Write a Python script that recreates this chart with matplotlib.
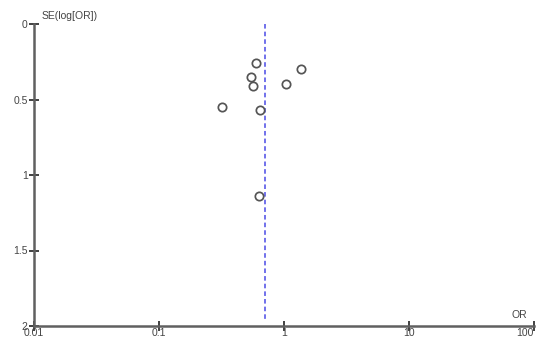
import matplotlib
matplotlib.use("Agg")
import matplotlib.pyplot as plt

plt.rcParams['font.family'] = ['Liberation Sans', 'DejaVu Sans']

# study estimates
odds_ratio = [0.60, 1.36, 0.54, 0.57, 1.03, 0.32, 0.64, 0.63]
se_log_or = [0.26, 0.30, 0.35, 0.41, 0.40, 0.55, 0.57, 1.14]
pooled_or = 0.71

x_ticks = [0.01, 0.1, 1, 10, 100]
x_labels = ['0.01', '0.1', '1', '10', '100']
y_ticks = [0, 0.5, 1, 1.5, 2]
y_labels = ['0', '0.5', '1', '1.5', '2']

axis_col = '#606060'

fig = plt.figure(figsize=(5.38, 3.38), dpi=100)
ax = fig.add_axes([34 / 538, 12 / 338, 500 / 538, 302 / 338])

ax.scatter(odds_ratio, se_log_or, s=36, facecolors='white',
           edgecolors='#555555', linewidths=1.25, zorder=3)
ax.plot([pooled_or, pooled_or], [0, 1.97], color='#4a4ae6',
        linestyle=(0, (3, 2)), linewidth=1.1, zorder=2)

ax.set_xscale('log')
ax.set_xlim(0.01, 100)
ax.set_ylim(2, 0)
ax.set_xticks(x_ticks)
ax.set_xticklabels(x_labels)
ax.set_yticks(y_ticks)
ax.set_yticklabels(y_labels)
ax.minorticks_off()

for side in ['top', 'right']:
    ax.spines[side].set_visible(False)
for side in ['left', 'bottom']:
    ax.spines[side].set_color(axis_col)
    ax.spines[side].set_linewidth(1.8)

ax.tick_params(axis='both', direction='inout', length=7, width=1.3,
               color='#333333', labelsize=7.5, labelcolor='#444444')
ax.tick_params(axis='x', pad=-2)
ax.tick_params(axis='y', pad=1)
ax.get_xticklabels()[-1].set_horizontalalignment('right')

ax.text(0.0115, -0.02, 'SE(log[OR])', fontsize=7.5, color='#444444',
        ha='left', va='bottom')
ax.text(88, 1.96, 'OR', fontsize=7.5, color='#444444', ha='right',
        va='bottom')

fig.savefig('out.png', dpi=100)
